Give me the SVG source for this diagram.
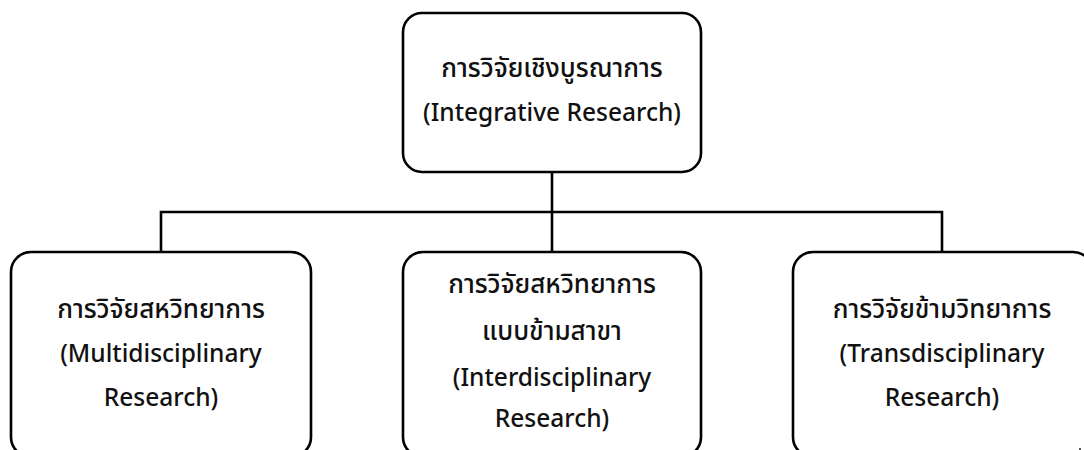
<svg xmlns="http://www.w3.org/2000/svg" width="1084" height="450" viewBox="0 0 1084 450">
<style>
.box{fill:#fff;stroke:#000;stroke-width:2.6}
.con{fill:none;stroke:#000;stroke-width:2.6}
.t{font-family:"Noto Sans","Noto Sans Thai","DejaVu Sans",sans-serif;font-size:24.5px;font-weight:500;fill:#111;text-anchor:middle}
.th{font-size:26px}
</style>
<rect width="1084" height="450" fill="#fff"/>
<g id="connectors">
<path class="con" d="M552 172V212M161 252V212H942V252M552 212V252"/>
</g>
<g id="integrative">
<rect class="box" x="403" y="13" width="298" height="159" rx="19"/>
<text class="t th" x="552" y="77">การวิจัยเชิงบูรณาการ</text>
<text class="t" x="552" y="121">(Integrative Research)</text>
</g>
<g id="multi">
<rect class="box" x="11" y="252" width="300" height="205" rx="20"/>
<text class="t th" x="161" y="318">การวิจัยสหวิทยาการ</text>
<text class="t" x="161" y="362">(Multidisciplinary</text>
<text class="t" x="161" y="406">Research)</text>
</g>
<g id="inter">
<rect class="box" x="403" y="252" width="298" height="205" rx="20"/>
<text class="t th" x="552" y="293">การวิจัยสหวิทยาการ</text>
<text class="t th" x="552" y="340">แบบข้ามสาขา</text>
<text class="t" x="552" y="386">(Interdisciplinary</text>
<text class="t" x="552" y="427">Research)</text>
</g>
<g id="trans">
<rect class="box" x="793" y="252" width="300" height="205" rx="20"/>
<text class="t th" x="942" y="318">การวิจัยข้ามวิทยาการ</text>
<text class="t" x="942" y="362">(Transdisciplinary</text>
<text class="t" x="942" y="406">Research)</text>
</g>
<rect x="1079" y="448" width="2" height="2" fill="#555"/>
</svg>
